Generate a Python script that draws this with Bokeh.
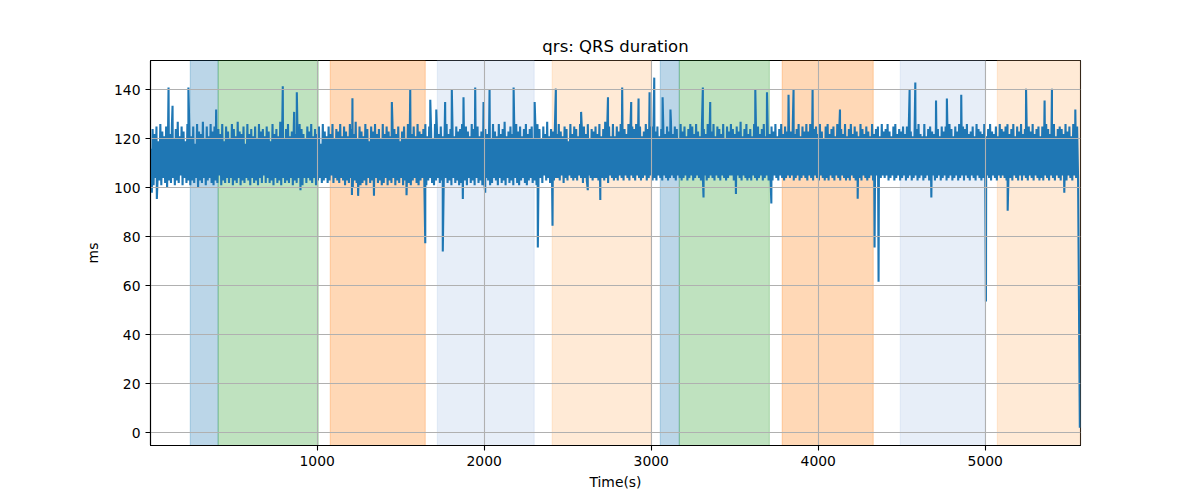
import numpy as np
from bokeh.plotting import figure
from bokeh.models import BoxAnnotation, Range1d, FixedTicker
from bokeh.embed import file_html
from bokeh.resources import INLINE

# ---- data -------------------------------------------------------------
# regular-beat QRS duration readings (ms), sampled every SAMPLE_STEP s
qrs_base_ms = [
    116,103,124,101,122,104,125,102,119,103,126,101,123,104,121,102,125,100,124,103,
    122,102,126,104,120,101,124,103,127,102,121,105,125,101,123,104,119,102,126,103,
    124,101,121,103,125,102,118,104,126,100,123,103,122,102,127,104,120,101,125,103,
    121,104,126,102,123,101,125,103,120,102,124,105,122,101,126,103,119,102,125,104,
    123,102,120,104,126,101,124,103,121,102,127,104,123,101,122,103,125,102,118,104,
    126,103,122,101,124,104,121,102,125,103,120,101,126,104,123,102,124,105,121,102,
    125,104,123,102,119,103,126,101,122,104,124,102,121,103,127,101,123,104,120,102,
    124,103,126,102,121,104,123,101,125,103,122,102,119,104,126,103,124,101,122,104,
    120,102,125,104,123,103,126,102,121,104,124,101,122,103,125,104,118,102,126,103,
    123,104,121,102,125,103,122,105,126,102,120,104,124,103,123,102,126,104,121,103,
    125,101,123,103,121,102,126,104,124,100,122,103,127,102,120,104,125,101,123,102,
    121,103,126,101,124,104,119,102,125,103,123,101,126,104,122,102,124,103,120,101,
    126,102,122,104,125,101,123,103,121,102,127,104,124,101,122,103,125,102,119,104,
    123,101,125,103,120,104,126,102,124,101,122,103,125,104,121,102,126,101,123,103,
    122,104,124,102,126,101,121,103,125,104,123,102,120,101,126,103,124,104,122,102,
    125,103,121,101,123,104,126,102,122,103,124,101,127,104,121,102,125,103,123,101,
    124,102,126,104,120,103,125,101,123,104,121,102,126,103,124,101,122,104,125,102,
    121,103,123,101,126,102,124,104,122,103,125,101,120,102,126,104,123,103,121,101,
    126,104,122,102,124,103,127,101,121,104,123,102,125,103,122,101,124,104,126,102,
    123,101,125,103,121,104,124,102,126,101,122,103,124,104,125,102,120,103,123,101,
    126,103,124,104,120,102,125,105,122,103,127,104,121,102,124,105,123,103,125,104,
    122,104,126,103,123,105,121,102,125,104,124,103,119,105,126,104,122,103,125,104,
    124,103,121,105,126,104,123,102,125,104,122,103,126,105,120,104,124,103,123,104,
    125,104,122,103,126,105,121,104,124,103,127,104,123,102,125,105,121,104,126,103,
    121,104,125,103,123,105,126,104,120,103,124,105,122,104,126,103,123,105,125,104,
    124,103,126,105,122,104,125,103,121,104,123,105,126,103,124,104,120,105,125,103,
    126,104,123,103,125,105,121,104,124,103,126,105,122,104,125,103,123,104,127,105,
    122,104,125,103,124,105,120,104,126,103,123,104,125,105,121,103,124,104,126,105,
    125,103,122,104,126,105,123,104,121,103,125,104,124,105,122,103,126,104,123,105,
    123,104,126,103,121,105,125,104,124,103,122,105,126,104,120,103,125,104,123,105,
    126,105,124,103,122,104,125,105,123,104,127,103,121,105,124,104,126,103,122,104,
    124,103,121,105,126,104,123,103,125,104,122,105,124,103,126,104,121,105,125,103,
    122,104,125,103,123,105,126,104,121,103,124,105,126,104,122,103,125,104,123,105,
    125,104,123,105,126,103,122,104,124,105,126,103,121,104,125,105,123,104,126,103,
    123,105,126,104,121,103,124,105,125,104,122,103,126,105,123,104,120,103,125,104,
    126,103,122,105,124,104,125,103,121,105,126,104,123,103,124,105,122,104,126,103,
    121,104,124,103,126,105,122,104,125,103,123,105,121,104,126,103,124,105,122,104,
    125,103,123,104,121,105,126,103,122,104,124,105,125,103,121,104,126,105,123,104,
    124,105,126,103,123,104,121,105,125,103,126,104,122,105,124,103,123,104,125,105,
    122,103,125,104,126,105,123,103,121,104,125,105,124,103,126,104,122,105,121,103,
    126,104,121,105,124,103,125,104,123,105,122,103,126,104,124,105,121,103,125,104,
    123,105,125,103,122,104,126,105,124,103,121,104,125,105,123,103,126,104,122,105,
    125,103,124,105,126,104,122,103,123,105,125,104,121,103,126,105,124,104,123,103,
    122,104,126,103,121,105,124,104,126,103,123,105,122,104,125,103,121,105,126,104,
    124,105,123,104,125,103,126,105,122,104,124,103,126,105,121,104,125,103,123,105,
    126,103,122,105,124,104,121,103,125,105,123,104,126,103,122,105,124,104,125,103,
    121,104,125,103,123,105,126,104,124,103,122,105,125,104,126,103,121,105,124,104,
    125,103,124,105,122,104,126,103,123,105,125,104,121,103,126,105,123,104,125,103,
]
SAMPLE_START = 3.0
SAMPLE_STEP = 5.79

# irregular beats (time s, QRS ms)
spike_t = [10, 40, 110, 134, 229, 395, 794, 862, 878, 900, 1208, 1211, 1245, 1340,
           1447, 1535, 1557, 1647, 1677, 1713, 1752, 1766, 1806, 1872, 1876, 1946,
           1996, 2006, 2032, 2176, 2302, 2321, 2409, 2429, 2580, 2620, 2695, 2741,
           2826, 2880, 2924, 2990, 3018, 3068, 3115, 3309, 3313, 3353, 3507, 3623,
           3693, 3719, 3822, 3852, 3966, 4130, 4236, 4337, 4361, 4547, 4581, 4677,
           4705, 4770, 4856, 5004, 5134, 5244, 5355, 5399, 5473, 5539, 5566]
spike_v = [98, 95.4, 141, 133.5, 141, 132, 141.5, 131, 139, 99, 97, 136.6, 96.7, 96.7,
           135, 97, 140, 77.3, 136, 132, 74, 135, 140, 95.4, 137, 141,
           135, 98, 140, 141, 135, 75.6, 84.5, 140.5, 131, 99, 95, 137,
           141, 135, 136.5, 139, 145, 137, 132, 141, 96, 135, 97.5, 140,
           139, 93.6, 138, 140, 140, 132, 95.5, 75.6, 61.6, 140, 143, 96,
           135.7, 136.5, 138, 53.5, 90.6, 140.5, 135.7, 140.5, 98, 132, 2]

# activity periods (start s, end s, colour)
period_start = [240, 407, 1078, 1719, 2407, 3054, 3168, 3784, 4491, 5072]
period_end = [407, 1006, 1647, 2299, 3000, 3168, 3707, 4329, 5000, 5570]
period_color = ["#1f77b4", "#2ca02c", "#ff7f0e", "#aec7e8", "#ffbb78",
                "#1f77b4", "#2ca02c", "#ff7f0e", "#aec7e8", "#ffbb78"]

x_ticks = [1000, 2000, 3000, 4000, 5000]
y_ticks = [0, 20, 40, 60, 80, 100, 120, 140]

# ---- assemble series ---------------------------------------------------
base_t = SAMPLE_START + SAMPLE_STEP * np.arange(len(qrs_base_ms))
t_all = np.concatenate([base_t, np.array(spike_t, dtype=float)])
v_all = np.concatenate([np.array(qrs_base_ms, dtype=float), np.array(spike_v, dtype=float)])
order = np.argsort(t_all, kind="stable")
t_all = t_all[order]
v_all = v_all[order]

# ---- figure -----------------------------------------------------------
W, H = 1192, 492
p = figure(width=W, height=H, output_backend="svg", toolbar_location=None,
           x_range=Range1d(2, 5570), y_range=Range1d(-5.3, 152),
           min_border_left=150, min_border_right=W - 1080,
           min_border_top=60, min_border_bottom=H - 445,
           title="qrs: QRS duration")
p.background_fill_color = "white"
p.border_fill_color = "white"
p.outline_line_color = "black"
p.outline_line_width = 1.1
p.outline_line_alpha = 1

p.title.align = "center"
p.title.text_font = "DejaVu Sans"
p.title.text_font_size = "16.5px"
p.title.text_font_style = "normal"
p.title.text_color = "black"

for s, e, c in zip(period_start, period_end, period_color):
    p.add_layout(BoxAnnotation(left=s, right=e, fill_color=c, fill_alpha=0.3,
                               line_color=c, line_alpha=0.3, line_width=1,
                               level="underlay"))

for g in (p.xgrid, p.ygrid):
    g.level = "glyph"
    g.grid_line_color = "#b0b0b0"
    g.grid_line_width = 1.1
    g.grid_line_alpha = 1

p.xaxis.ticker = FixedTicker(ticks=x_ticks)
p.yaxis.ticker = FixedTicker(ticks=y_ticks)
p.xgrid.ticker = FixedTicker(ticks=x_ticks)
p.ygrid.ticker = FixedTicker(ticks=y_ticks)

for ax in (p.xaxis, p.yaxis):
    ax.axis_line_color = "black"
    ax.axis_line_width = 1.1
    ax.major_tick_line_color = "black"
    ax.major_tick_line_width = 1.1
    ax.major_tick_out = 5
    ax.major_tick_in = 0
    ax.minor_tick_line_color = None
    ax.major_label_text_font = "DejaVu Sans"
    ax.major_label_text_font_size = "13.9px"
    ax.major_label_text_color = "black"
    ax.major_label_standoff = 5
    ax.axis_label_text_font = "DejaVu Sans"
    ax.axis_label_text_font_size = "13.9px"
    ax.axis_label_text_font_style = "normal"
    ax.axis_label_text_color = "black"

p.xaxis.axis_label = "Time(s)"
p.yaxis.axis_label = "ms"
p.xaxis.axis_label_standoff = 5
p.yaxis.axis_label_standoff = 10

p.line(t_all, v_all, line_color="#1f77b4", line_width=2.1)

open("out.html", "w").write(file_html(p, INLINE))
